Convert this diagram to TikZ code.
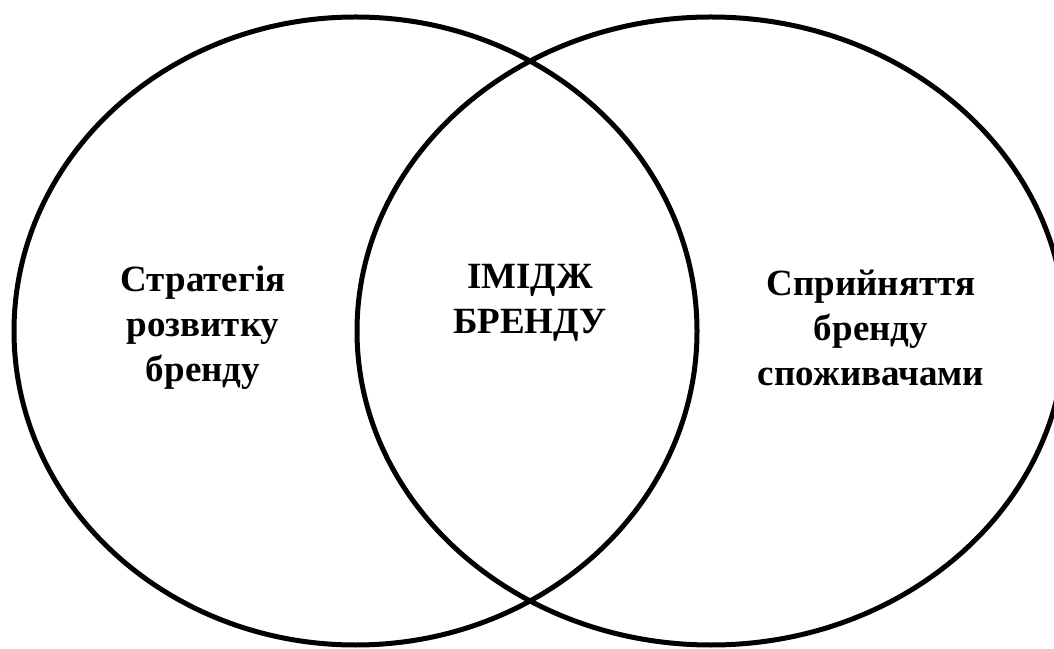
\documentclass[tikz,border=0pt]{standalone}
\usepackage{fontspec}
\setmainfont{Liberation Serif}
\begin{document}
\begin{tikzpicture}[x=1pt,y=1pt,
  venn/.style={draw=black,line width=5pt},
  lbl/.style={font=\fontsize{37}{45}\selectfont\bfseries,align=center,inner sep=0pt}]
\useasboundingbox (0,0) rectangle (1054,648);
\draw[venn] (355.5,317) ellipse [x radius=341.5, y radius=314];
\draw[venn] (711,317) ellipse [x radius=354, y radius=314];
\node[lbl] (strat) at (203,320) {Стратегія\\розвитку\\бренду};
\node[lbl] (image) at (530,345) {ІМІДЖ\\БРЕНДУ};
\node[lbl] (perc) at (871,320) {Сприйняття\\бренду\\споживачами};
\end{tikzpicture}
\end{document}
